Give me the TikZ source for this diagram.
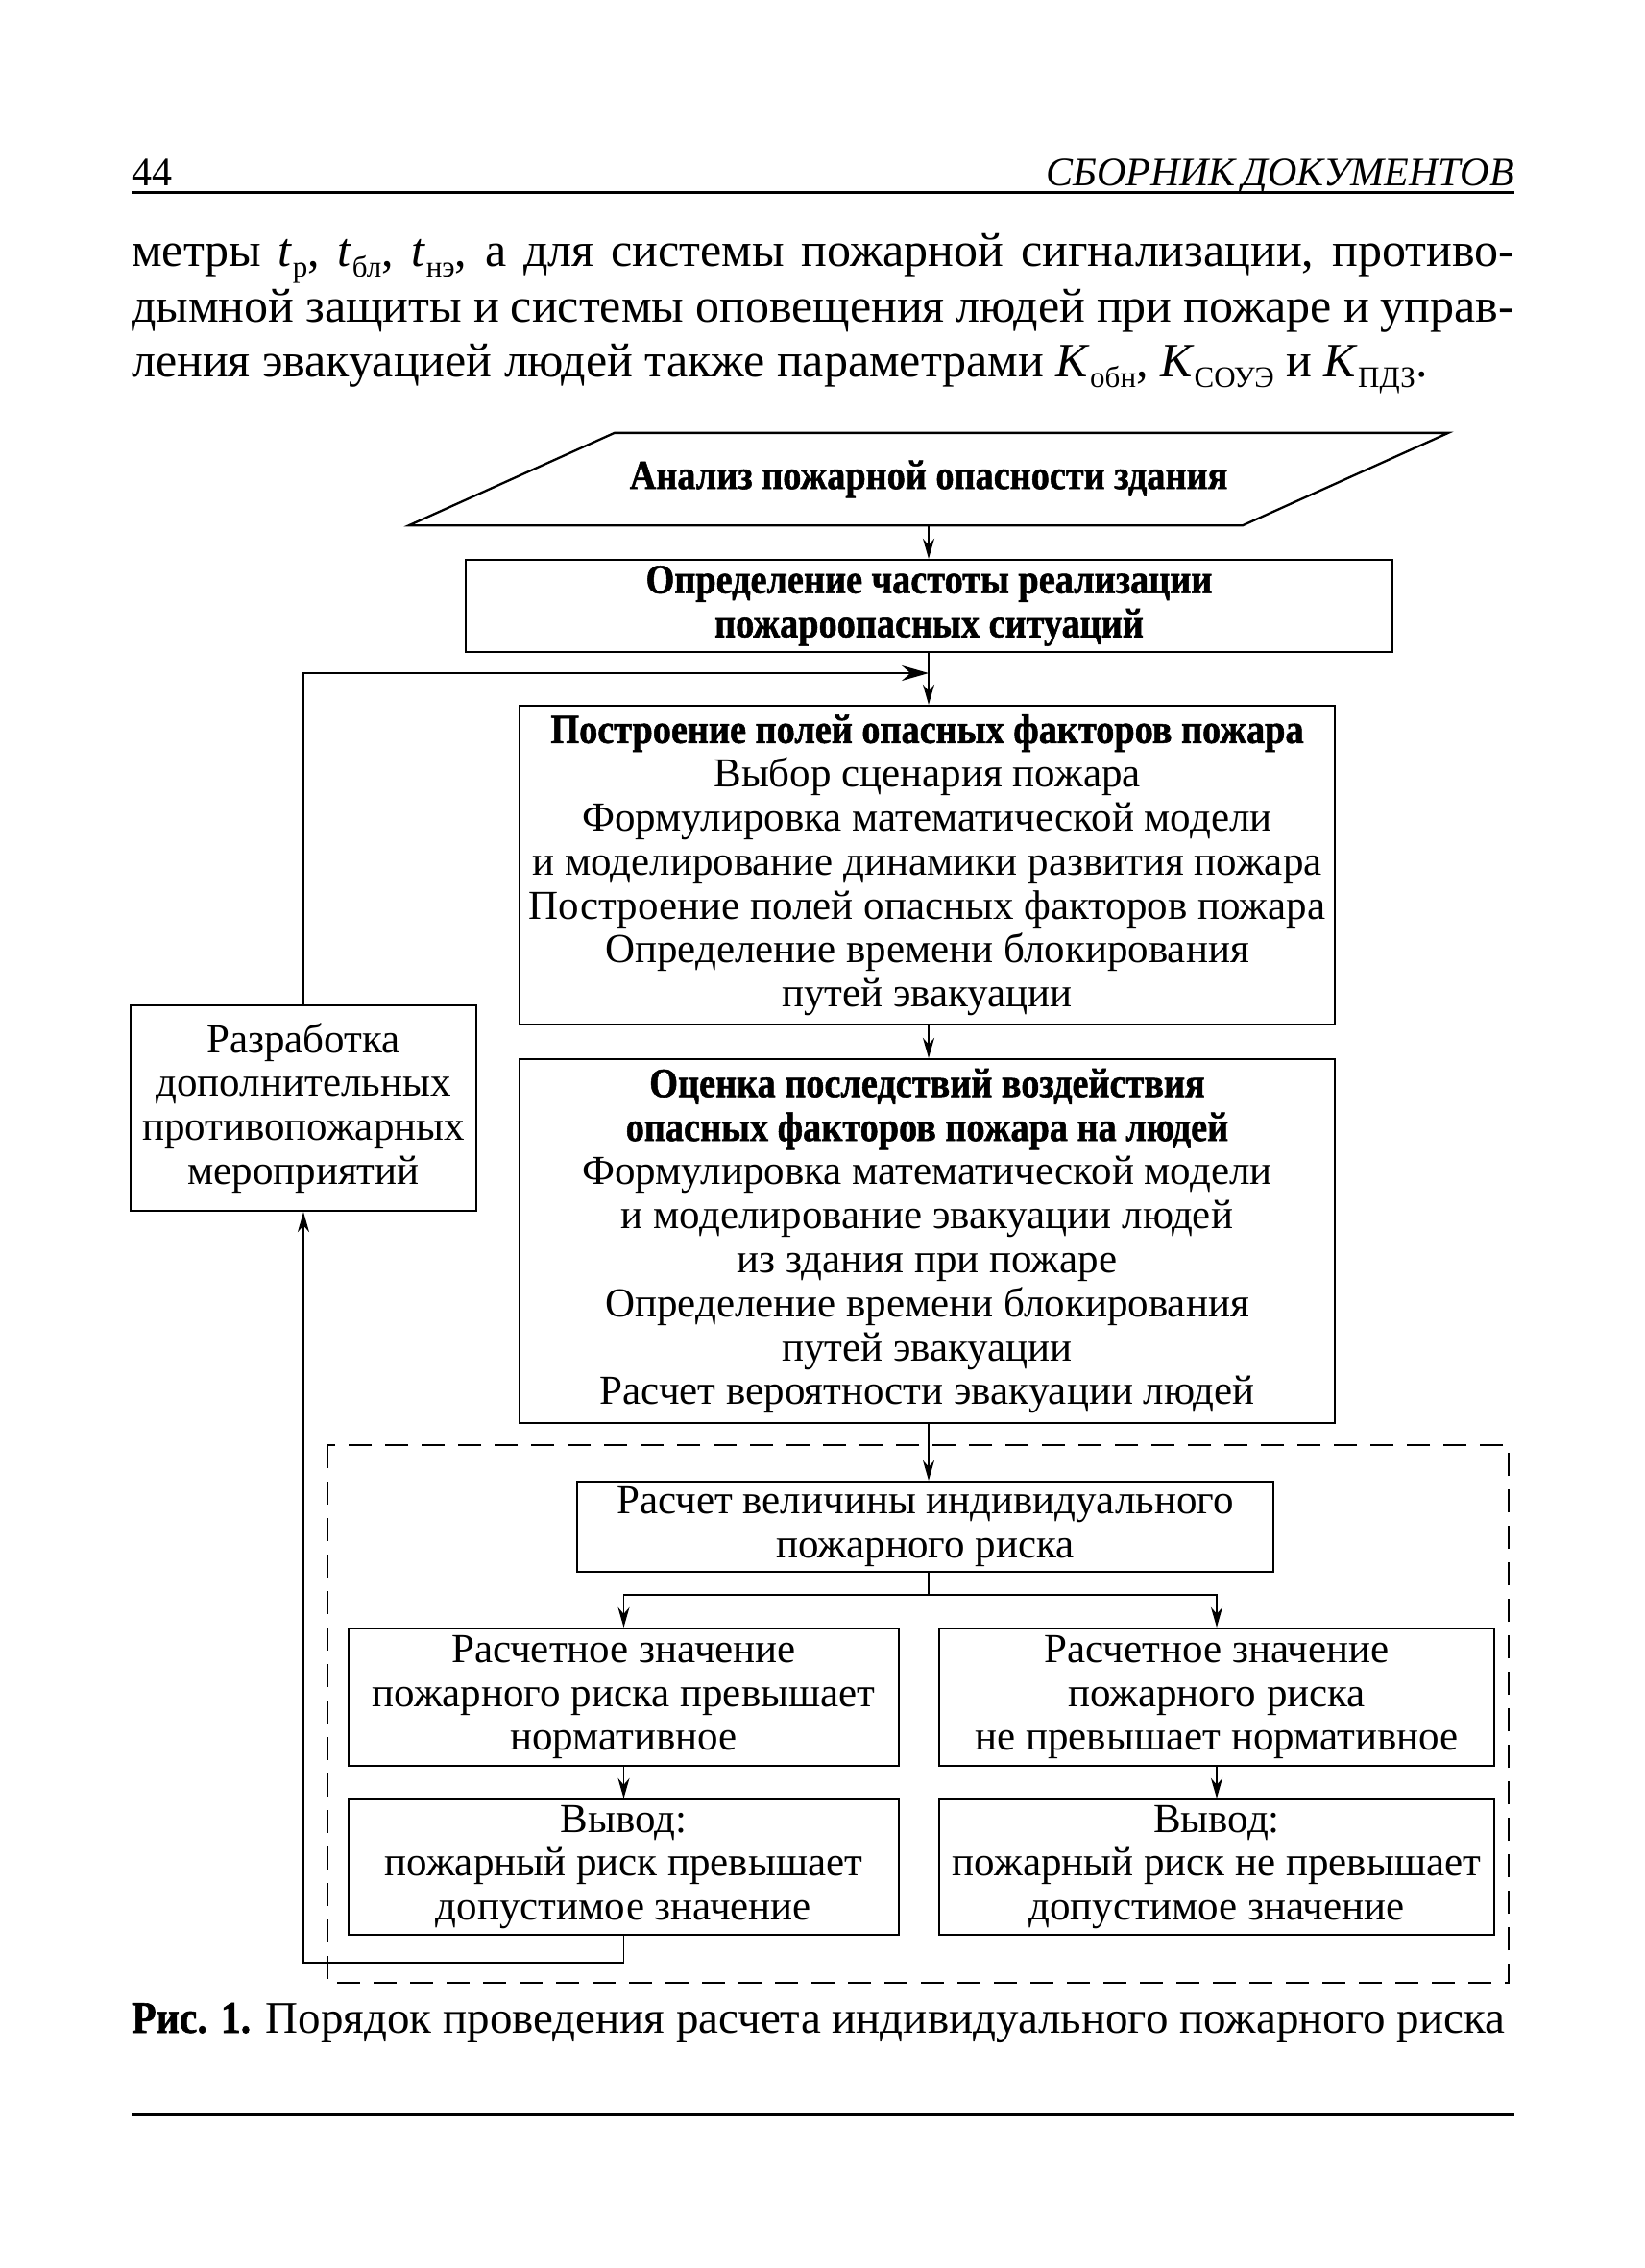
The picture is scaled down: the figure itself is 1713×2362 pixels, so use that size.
\documentclass[tikz,border=0pt]{standalone}
\usepackage{fontspec}
\setmainfont{Liberation Serif}
\newfontfamily\condbf{Liberation Serif}[FakeStretch=0.89, FakeBold=1.2]
\usetikzlibrary{arrows.meta}

\newcommand\diagfont{\fontsize{43}{45.8}\selectfont}
\newcommand\bodyfont{\fontsize{50}{57.5}\selectfont}
\newcommand\lowidx[1]{\raisebox{-0.5ex}{\fontsize{31}{31}\selectfont #1}}
\newcommand\bfhead[1]{{\condbf\bfseries #1}}

\tikzset{
  box/.style={draw, line width=2.3pt, align=center, inner sep=0pt, font=\diagfont},
  arr/.style={-{Stealth[length=21pt,width=12pt]}, line width=1.9pt},
  bigarr/.style={-{Stealth[length=28pt,width=16pt]}, line width=1.9pt},
  link/.style={line width=1.9pt},
  dashframe/.style={dash pattern=on 24pt off 14pt, line width=1.4pt},
  rule/.style={line width=3pt},
  bodyline/.style={anchor=base west, inner sep=0pt, font=\bodyfont},
}

\begin{document}
\begin{tikzpicture}[x=1pt,y=-1pt]
  \useasboundingbox (0,0) rectangle (1713,2362);
  % page head
  \node[anchor=base west, inner sep=0pt, font=\fontsize{42}{42}\selectfont] (pagenum) at (137,193) {44};
  \node[anchor=base east, inner sep=0pt, font=\fontsize{42}{42}\selectfont\itshape] (runhead) at (1577,193) {СБОРНИК\,ДОКУМЕНТОВ};
  \draw[rule] (137,200) -- (1577,200);
  % text above the figure
  \node[bodyline] (line1) at (137,277) {\hbox to 1440pt{метры \textit{t}\lowidx{р}, \textit{t}\lowidx{бл}, \textit{t}\lowidx{нэ}, а для системы пожарной сигнализации, противо-}};
  \node[bodyline] (line2) at (137,335) {\hbox to 1440pt{дымной защиты и системы оповещения людей при пожаре и управ-}};
  \node[bodyline] (line3) at (137,392) {ления эвакуацией людей также параметрами \textit{K}\lowidx{обн}, \textit{K}\lowidx{СОУЭ} и \textit{K}\lowidx{ПДЗ}.};
  % flowchart
  \coordinate (axis) at (967,0);
  \coordinate (join) at (967,701);
  \coordinate (split) at (967,1661);
  \node[box, draw=none, minimum width=866pt, minimum height=94pt] (analysis) at (967,499)
    {\bfhead{Анализ пожарной опасности здания}};
  \draw[line width=2.3pt] ([xshift=-107pt]analysis.south west) -- ([xshift=-107pt]analysis.south east)
    -- ([xshift=107pt]analysis.north east) -- ([xshift=107pt]analysis.north west) -- cycle;
  \node[box, minimum width=965pt, minimum height=96pt] (freq) at (967.5,631)
    {\bfhead{Определение частоты реализации}\\\bfhead{пожароопасных ситуаций}};
  \node[box, minimum width=849pt, minimum height=332pt] (fields) at (965.5,901)
    {\bfhead{Построение полей опасных факторов пожара}\\Выбор сценария пожара\\
     Формулировка математической модели\\и моделирование динамики развития пожара\\
     Построение полей опасных факторов пожара\\Определение времени блокирования\\путей эвакуации};
  \node[box, minimum width=849pt, minimum height=379pt] (impact) at (965.5,1292.5)
    {\bfhead{Оценка последствий воздействия}\\\bfhead{опасных факторов пожара на людей}\\
     Формулировка математической модели\\и моделирование эвакуации людей\\из здания при пожаре\\
     Определение времени блокирования\\путей эвакуации\\Расчет вероятности эвакуации людей};
  \node[box, minimum width=360pt, minimum height=214pt] (extra) at (316,1154)
    {Разработка\\дополнительных\\противопожарных\\мероприятий};
  \node[box, minimum width=725pt, minimum height=94pt] (indiv) at (963.5,1590)
    {Расчет величины индивидуального\\пожарного риска};
  \node[box, minimum width=573pt, minimum height=143pt] (over) at (649.5,1767.5)
    {Расчетное значение\\пожарного риска превышает\\нормативное};
  \node[box, minimum width=578pt, minimum height=143pt] (notover) at (1267,1767.5)
    {Расчетное значение\\пожарного риска\\не превышает нормативное};
  \node[box, minimum width=573pt, minimum height=141pt] (overout) at (649.5,1944.5)
    {Вывод:\\пожарный риск превышает\\допустимое значение};
  \node[box, minimum width=578pt, minimum height=141pt] (notoverout) at (1267,1944.5)
    {Вывод:\\пожарный риск не превышает\\допустимое значение};
  \draw[dashframe] (341,1505) rectangle (1571,2065);
  % connectors
  \draw[arr] (analysis.south -| axis) -- (freq.north -| axis);
  \draw[arr] (freq.south -| axis) -- (fields.north -| axis);
  \draw[bigarr] (extra.north) |- (join);
  \draw[arr] (fields.south -| axis) -- (impact.north -| axis);
  \draw[arr] (impact.south -| axis) -- (indiv.north -| axis);
  \draw[link] (indiv.south -| axis) -- (split);
  \draw[arr] (split) -| (over.north);
  \draw[arr] (split) -| (notover.north);
  \draw[arr] (over) -- (overout);
  \draw[arr] (notover) -- (notoverout);
  \draw[arr] (overout.south) -- ++(0,28) -| (extra.south);
  % caption
  \node[anchor=base west, inner sep=0pt, font=\fontsize{47}{47}\selectfont] (caption) at (137,2117)
    {\bfhead{Рис. 1.} Порядок проведения расчета индивидуального пожарного риска};
  \draw[rule] (137,2202) -- (1577,2202);
\end{tikzpicture}
\end{document}
